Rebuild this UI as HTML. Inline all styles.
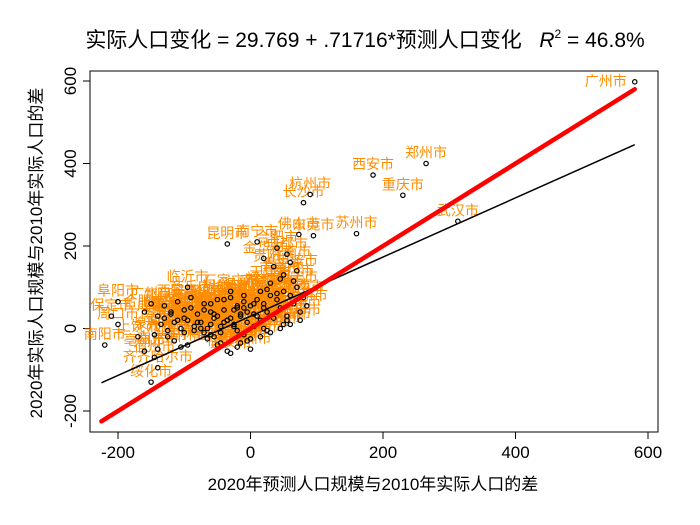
<!DOCTYPE html>
<html><head><meta charset="utf-8"><style>
html,body{margin:0;padding:0;background:#fff;}
svg{display:block;font-family:"Liberation Sans","Noto Sans CJK SC",sans-serif;}
</style></head><body>
<svg id="chart" width="700" height="525" viewBox="0 0 700 525">
<text x="365" y="47" font-size="21" text-anchor="middle" fill="#000">实际人口变化 = 29.769 + .71716*预测人口变化 &#160;&#160;<tspan font-style="italic">R</tspan><tspan font-size="12" dy="-9">2</tspan><tspan dy="9"> = 46.8%</tspan></text>
<rect x="90" y="71" width="568" height="361" fill="none" stroke="#000" stroke-width="1"/>
<g id="xaxis"></g>
<g id="yaxis"></g>
<text x="373" y="490" font-size="17" text-anchor="middle">2020年预测人口规模与2010年实际人口的差</text>
<text transform="translate(42,253) rotate(-90)" font-size="17" text-anchor="middle">2020年实际人口规模与2010年实际人口的差</text>
<g id="labels"></g>
<g id="points"></g>
<g id="lines"></g>
</svg>
<script>
const xTicks = [-200, 0, 200, 400, 600];
const yTicks = [-200, 0, 200, 400, 600];
const fitIntercept = 29.769;
const fitSlope = 0.71716;
const lineRange = [-225, 580];
const cityNames = ["广州市","郑州市","西安市","重庆市","武汉市","杭州市","长沙市","苏州市","佛山市","东莞市","昆明市","南宁市","合肥市","成都市","临沂市","石家庄市","阜阳市","保定市","周口市","南阳市","齐齐哈尔市","绥化市","金华市","贵阳市","济南市","南京市","宁波市","青岛市","温州市","天津市","徐州市","商丘市","驻马店市","邯郸市","菏泽市","洛阳市","南昌市","福州市","厦门市","太原市","沈阳市","长春市","哈尔滨市","信阳市","信阳市","赣州市","上饶市","泉州市","嘉兴市","台州市","邢台市","沧州市","潍坊市","济宁市","衡阳市","邵阳市","湛江市","茂名市","揭阳市","玉林市","南充市","遵义市","毕节市","曲靖市","宜春市","六安市","亳州市","宿州市","盐城市","淮安市","廊坊市","唐山市","烟台市","常州市","无锡市","惠州市","中山市","江门市","绍兴市","泰州市","南通市","扬州市","襄阳市","荆州市","岳阳市","常德市","株洲市","漳州市","柳州市","桂林市"];
const xVals = [580,265,185,230,313,90,80,160,73,95,-35,10,40,55,-95,-30,-200,-210,-200,-220,-140,-150,20,35,60,45,70,50,-10,30,-60,-90,-120,-70,-110,-40,15,25,65,-20,-5,-50,-80,-130,-100,-60,-75,5,40,20,-45,-55,-15,-35,-85,-115,-65,-25,-10,-95,-140,-30,-105,-45,-70,-125,-160,-145,-50,-40,10,0,25,55,75,85,60,45,30,-5,15,5,-20,-30,-55,-15,0,-10,-25,-35,
 -150,-130,-110,-90,-70,-50,-30,-10,10,30,50,70,-160,-140,-120,-100,-80,-60,-40,-20,0,20,40,60,80,-135,-115,-95,-75,-55,-35,-15,5,25,45,65,-125,-105,-85,-65,-45,-25,-5,15,35,55,-170,-145,-100,-60,-20,20,50,75];
const yVals = [598,400,372,323,260,325,305,230,228,225,205,210,195,180,100,90,65,30,10,-40,-95,-130,170,150,160,120,140,130,80,110,60,75,40,45,20,70,90,95,115,55,40,30,15,25,45,10,0,60,85,50,-10,-20,35,20,-5,-30,-25,5,-15,-40,-50,-60,-45,-35,-10,-20,-55,-70,-40,15,30,-25,-5,20,40,55,10,0,-10,-30,-20,5,-45,25,35,-35,-50,50,45,-55,
 60,55,65,50,60,70,75,65,70,80,90,100,40,30,35,25,35,40,45,50,55,60,70,80,75,10,15,20,15,25,20,30,35,40,50,60,-5,0,5,0,5,10,15,20,25,30,-20,-15,-10,-15,-5,0,10,20];
const X0 = 250.5, XS = 0.6625, Y0 = 328.5, YS = 0.4125;
function sx(v){return X0 + v*XS;}
function sy(v){return Y0 - v*YS;}
const NS = "http://www.w3.org/2000/svg";
function mk(tag, attrs, parent){const e=document.createElementNS(NS,tag);for(const k in attrs)e.setAttribute(k,attrs[k]);parent.appendChild(e);return e;}
const xa = document.getElementById('xaxis');
xTicks.forEach(t=>{
  const l = mk('line',{x1:sx(t),x2:sx(t),y1:432,y2:439,stroke:'#000'},xa);
  
  
  const tx = mk('text',{x:sx(t),y:458,'font-size':17,'text-anchor':'middle'},xa);
  tx.textContent = t;
  
  
});
const ya = document.getElementById('yaxis');
yTicks.forEach(t=>{
  const l = mk('line',{x1:83,x2:90,y1:sy(t),y2:sy(t),stroke:'#000'},ya);
  
  
  const tx = mk('text',{transform:'translate(76,'+sy(t)+') rotate(-90)','font-size':17,'text-anchor':'middle'},ya);
  tx.textContent = t;
  
  
});
const lg = document.getElementById('labels');
const pg = document.getElementById('points');
xVals.forEach((xv,i)=>{
  const yv = yVals[i];
  const name = cityNames[i % cityNames.length];
  const px = sx(xv), py = sy(yv);
  const anchorEnd = i===0;
  const t = mk('text',{x: anchorEnd ? px-8 : px, y: anchorEnd ? py+4 : py-6,'font-size':14,fill:'#ff8c00','text-anchor': anchorEnd?'end':'middle'},lg);
  t.textContent = name;
  
  
  const c = mk('circle',{cx:px,cy:py,r:2.2,fill:'none',stroke:'#000','stroke-width':1.2},pg);
  
  
});
const ln = document.getElementById('lines');
const fit = mk('line',{x1:sx(lineRange[0]),y1:sy(fitIntercept+fitSlope*lineRange[0]),x2:sx(lineRange[1]),y2:sy(fitIntercept+fitSlope*lineRange[1]),stroke:'#000','stroke-width':1.5},ln);


const diag = mk('line',{x1:sx(lineRange[0]),y1:sy(lineRange[0]),x2:sx(lineRange[1]),y2:sy(lineRange[1]),stroke:'#ff0000','stroke-width':4.5,'stroke-linecap':'round'},ln);


</script>
</body></html>
